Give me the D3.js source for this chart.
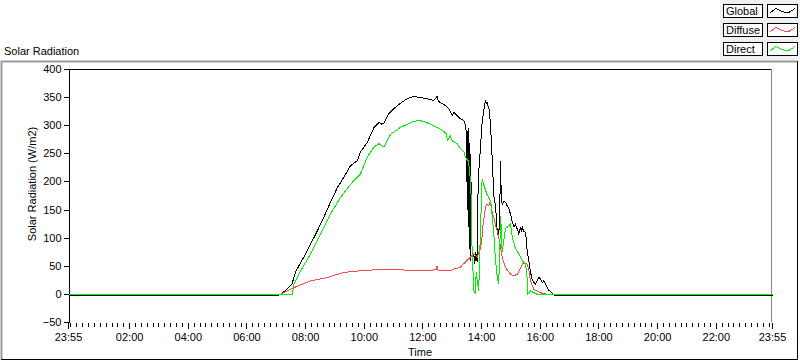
<!DOCTYPE html>
<html>
<head>
<meta charset="utf-8">
<script src="https://cdn.jsdelivr.net/npm/d3@7"></script>
<style>
  body { margin: 0; background: #fff; }
  svg { display: block; font-family: "Liberation Sans", Arial, sans-serif; font-size: 11px; }
  .axis text { font-size: 11px; fill: #000; }
  .axis line, .axis path { stroke: #000; shape-rendering: crispEdges; }
  .series { shape-rendering: crispEdges; }
</style>
</head>
<body>
<svg id="chart" width="800" height="361"></svg>
<script>
// x values are minutes after midnight, "-00:05" is the 23:55 of the day before
let globalTimes = ["-00:05","07:05","07:09","07:20","07:32","07:39","07:50","08:00","08:10","08:24","08:37","08:51","09:05","09:18","09:32","09:46","09:52","10:06","10:20","10:30","10:35","10:40","10:50","11:00","11:14","11:28","11:41","11:55","12:09","12:22","12:29","12:32","12:43","12:53","13:00","13:03","13:17","13:24","13:27","13:29","13:30","13:31","13:32","13:33","13:34","13:35","13:36","13:37","13:38","13:39","13:40","13:42","13:44","13:46","13:48","13:51","13:53","13:58","14:01","14:06","14:08","14:10","14:11","14:13","14:15","14:18","14:20","14:22","14:25","14:28","14:30","14:32","14:35","14:37","14:39","14:40","14:42","14:45","14:49","14:52","14:56","15:00","15:03","15:06","15:09","15:13","15:16","15:19","15:21","15:23","15:26","15:30","15:33","15:37","15:40","15:43","15:47","15:50","15:54","15:57","16:00","16:03","16:05","16:07","16:11","16:14","16:17","16:24","16:28","23:55"]
let globalValues = [-1.5,-1.5,0,8,18,39,57,72,89,113,137,164,190,208,229,238,253,270,297,306,303,304,321,330,340,348,352,350,348,345,352,343,338,330,318,324,312,309,300,285,200,290,150,296,120,270,80,250,60,200,90,65,72,55,75,57,205,265,306,336,345,338,342,335,330,306,270,235,175,160,140,110,101,150,238,175,160,165,164,158,152,140,128,120,125,116,108,118,113,120,112,110,80,57,40,27,21,18,25,30,28,22,21,24,19,12,8,2,-1.5,-1.5]

let diffuseTimes = ["-00:05","07:09","07:36","08:10","08:44","09:18","09:52","10:26","11:00","11:34","12:09","12:27","12:29","12:31","12:56","13:03","13:17","13:20","13:24","13:30","13:33","13:37","13:44","13:51","13:58","14:01","14:03","14:08","14:11","14:15","14:18","14:22","14:25","14:28","14:32","14:35","14:39","14:42","14:49","14:59","15:06","15:13","15:20","15:26","15:33","15:37","15:40","15:47","16:00","16:14","23:55"]
let diffuseValues = [0,0,12,24,30,39,42,44,44,43,42,44,51,43,42,45,48,53,55,60,63,66,72,66,83,104,125,155,161,158,167,145,137,125,113,101,83,66,48,36,33,36,48,57,54,42,24,9,3,0,0]

let directTimes = ["-00:05","07:33","07:36","07:50","08:10","08:30","08:51","09:11","09:32","09:52","10:06","10:20","10:30","10:40","10:54","11:14","11:41","11:55","12:09","12:36","12:48","12:50","12:56","13:00","13:10","13:17","13:24","13:27","13:30","13:33","13:38","13:40","13:44","13:47","13:49","13:51","13:54","13:58","14:01","14:04","14:11","14:18","14:22","14:25","14:28","14:32","14:35","14:39","14:42","14:49","14:56","14:59","15:03","15:09","15:16","15:23","15:30","15:33","15:34","15:40","15:47","15:54","23:55"]
let directValues = [0,0,18,42,72,107,143,172,196,214,244,262,268,262,285,297,308,309,305,294,286,274,282,273,268,259,253,244,240,238,197,95,6,3,40,24,6,125,205,196,178,167,137,107,66,30,18,140,75,117,122,125,101,83,72,60,54,30,0,6,3,0,0]

let yTicks = [-50, 0, 50, 100, 150, 200, 250, 300, 350, 400]
let xTickLabels = ["23:55","02:00","04:00","06:00","08:00","10:00","12:00","14:00","16:00","18:00","20:00","22:00","23:55"]
let legendNames = ["Global", "Diffuse", "Direct"]
let legendColors = ["#000000", "#ff4545", "#00ee00"]

let toMinutes = (s) => {
    let sign = s[0] === '-' ? -1 : 1
    let parts = s.replace('-', '').split(':')
    return sign * (+parts[0] * 60 + +parts[1])
}

let svg = d3.select('#chart')

// panel frame
svg.append('rect').attr('x', 0).attr('y', 0).attr('width', 800).attr('height', 361).attr('fill', '#fff')
svg.append('rect').attr('x', 720).attr('y', 0).attr('width', 80).attr('height', 60).attr('fill', '#f0f0f0')
svg.append('path').attr('d', 'M1.5,359.5 V61.5 H797.5').attr('fill', 'none').attr('stroke', '#9a9a9a').attr('stroke-width', 2)
svg.append('path').attr('d', 'M797.5,61 V359.5 H1').attr('fill', 'none').attr('stroke', '#000').attr('stroke-width', 1)

svg.append('text').attr('x', 4).attr('y', 55).text('Solar Radiation')

let plotLeft = 68, plotRight = 772, plotTop = 69, plotBottom = 322

let x = d3.scaleLinear().domain([toMinutes('-00:05'), toMinutes('23:55')]).range([plotLeft, plotRight])
let y = d3.scaleLinear().domain([-50, 400]).range([plotBottom, plotTop])

// plot border
svg.append('line').attr('x1', plotLeft).attr('x2', plotRight).attr('y1', plotTop + 0.5).attr('y2', plotTop + 0.5).attr('stroke', '#000')
svg.append('line').attr('x1', plotRight - 0.5).attr('x2', plotRight - 0.5).attr('y1', plotTop).attr('y2', plotBottom).attr('stroke', '#888')

// y axis
let yAxis = d3.axisLeft(y).tickValues(yTicks).tickSize(5).tickSizeOuter(0).tickPadding(2)
svg.append('g').attr('class', 'axis').attr('transform', 'translate(' + (plotLeft + 0.5) + ',0)').call(yAxis)

// x axis: major every 2 hours plus the ends, minor every 12 min
let majorVals = xTickLabels.map((t, i) => i === 0 ? toMinutes('-00:05') : toMinutes(t))
let minorVals = d3.range(0, 1435, 12).filter(v => majorVals.indexOf(v) < 0)

let xMinor = d3.axisBottom(x).tickValues(minorVals).tickSize(4).tickFormat('')
let gMinor = svg.append('g').attr('class', 'axis').attr('transform', 'translate(0,' + (plotBottom + 1) + ')').call(xMinor)
gMinor.select('.domain').remove()

let xMajor = d3.axisBottom(x).tickValues(majorVals).tickSize(6).tickPadding(4)
    .tickFormat((d, i) => xTickLabels[i])
let gMajor = svg.append('g').attr('class', 'axis').attr('transform', 'translate(0,' + (plotBottom + 1) + ')').call(xMajor)
gMajor.select('.domain').remove()

svg.append('text').attr('x', 420).attr('y', 356).attr('text-anchor', 'middle').text('Time')
svg.append('text').attr('transform', 'translate(36,184) rotate(-90)').attr('text-anchor', 'middle').text('Solar Radiation (W/m2)')

// series
let line = d3.line().x(d => x(d[0])).y(d => y(d[1]))
let series = [
    { times: globalTimes, values: globalValues, color: legendColors[0] },
    { times: diffuseTimes, values: diffuseValues, color: legendColors[1] },
    { times: directTimes, values: directValues, color: legendColors[2] }
]
series.forEach(s => {
    let pts = s.times.map((t, i) => [toMinutes(t), s.values[i]])
    svg.append('path')
        .attr('class', 'series')
        .attr('d', line(pts))
        .attr('fill', 'none')
        .attr('stroke', s.color)
        .attr('stroke-width', 1)
        .attr('transform', 'translate(0.5,0.5)')
})

// legend
let legend = svg.selectAll('.legend')
    .data(legendNames)
    .enter()
    .append('g')
    .attr('transform', (d, i) => 'translate(0,' + (i * 19) + ')')

legend.append('rect').attr('x', 723.5).attr('y', 4.5).attr('width', 39).attr('height', 13)
    .attr('fill', '#fff').attr('stroke', '#000')
legend.append('text').attr('x', 726).attr('y', 15).text(d => d)
legend.append('rect').attr('x', 767.5).attr('y', 4.5).attr('width', 30).attr('height', 13)
    .attr('fill', '#fff').attr('stroke', '#000')
legend.append('path')
    .attr('class', 'series')
    .attr('d', 'M770,13 L776,8.5 L782,11.5 L788,13 L795,8.5')
    .attr('fill', 'none')
    .attr('stroke', (d, i) => legendColors[i])
</script>
</body>
</html>
